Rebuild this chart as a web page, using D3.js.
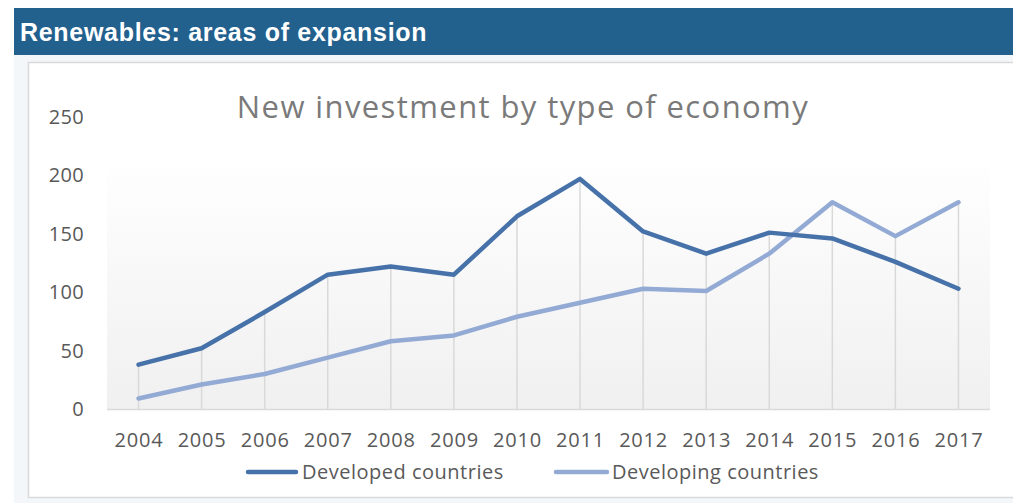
<!DOCTYPE html>
<html>
<head>
<meta charset="utf-8">
<script src="https://cdn.jsdelivr.net/npm/d3@7"></script>
<style>
  html, body { margin: 0; padding: 0; background: #ffffff; }
  svg { display: block; }
</style>
</head>
<body>
<svg id="chart" width="1025" height="503"></svg>
<script>
// New investment in renewables, by type of economy
const years = ["2004","2005","2006","2007","2008","2009","2010","2011","2012","2013","2014","2015","2016","2017"];
const developed  = [38, 52, 83, 115, 122, 115, 165, 197, 152, 133, 151, 146, 126, 103];
const developing = [9, 21, 30, 44, 58, 63, 79, 91, 103, 101, 133, 177, 148, 177];
const yTicks = [0, 50, 100, 150, 200, 250];
const seriesNames = ["Developed countries", "Developing countries"];
const seriesColors = ["#4672a9", "#93abd4"];

const svg = d3.select("#chart");

// page header bar and panel
svg.append("rect").attr("x", 14).attr("y", 55).attr("width", 999).attr("height", 448).attr("fill", "#f3f7fa");
svg.append("rect").attr("x", 14).attr("y", 8).attr("width", 999).attr("height", 47).attr("fill", "#22608e");
svg.append("text").attr("x", 20).attr("y", 41)
  .attr("font-family", "Liberation Sans, Arial, sans-serif").attr("font-weight", "bold")
  .attr("font-size", 25).attr("letter-spacing", 0.7).attr("fill", "#ffffff")
  .text("Renewables: areas of expansion");

// chart frame, cut off at the panel's right edge
svg.append("rect").attr("x", 28.5).attr("y", 62.5).attr("width", 1010).attr("height", 435)
  .attr("fill", "#ffffff").attr("stroke", "#d9d9d9").attr("stroke-width", 1.5);
svg.append("rect").attr("x", 1013).attr("y", 55).attr("width", 12).attr("height", 448).attr("fill", "#ffffff");

const plot = { left: 107, right: 990, top: 155, bottom: 409 };

const x = d3.scalePoint().domain(years).range([plot.left, plot.right]).padding(0.5);
const y = d3.scaleLinear().domain([0, 250]).range([plot.bottom, plot.bottom - 250 * 1.168]);

// plot-area gradient
const defs = svg.append("defs");
const grad = defs.append("linearGradient").attr("id", "plotBg").attr("x1", 0).attr("y1", 0).attr("x2", 0).attr("y2", 1);
grad.append("stop").attr("offset", "0%").attr("stop-color", "#ffffff");
grad.append("stop").attr("offset", "100%").attr("stop-color", "#f0f0f0");
svg.append("rect").attr("x", plot.left).attr("y", plot.top)
  .attr("width", plot.right - plot.left).attr("height", plot.bottom - plot.top)
  .attr("fill", "url(#plotBg)");

// title
svg.append("text").attr("x", 523).attr("y", 118).attr("text-anchor", "middle")
  .attr("font-family", "Open Sans, sans-serif").attr("font-size", 31).attr("letter-spacing", 1.4)
  .attr("fill", "#7a7a7a")
  .text("New investment by type of economy");

// drop lines from the higher series down to the axis
svg.append("g").selectAll("line").data(years).join("line")
  .attr("x1", d => x(d)).attr("x2", d => x(d))
  .attr("y1", y(0))
  .attr("y2", (d, i) => y(Math.max(developed[i], developing[i])))
  .attr("stroke", "#d9d9d9").attr("stroke-width", 1.5);

// x axis line
svg.append("line").attr("x1", plot.left).attr("x2", plot.right)
  .attr("y1", y(0) + 0.5).attr("y2", y(0) + 0.5)
  .attr("stroke", "#d9d9d9").attr("stroke-width", 1.5);

// y axis labels
const yAxis = d3.axisLeft(y).tickValues(yTicks).tickSize(0).tickPadding(0);
const gy = svg.append("g").attr("transform", "translate(84,0)").call(yAxis);
gy.select(".domain").remove();
gy.selectAll("text").attr("font-family", "Open Sans, sans-serif").attr("font-size", 20)
  .attr("letter-spacing", 0.3).attr("fill", "#595959");

// x axis labels
const xAxis = d3.axisBottom(x).tickSize(0).tickPadding(0);
const gx = svg.append("g").attr("transform", "translate(0,433)").call(xAxis);
gx.select(".domain").remove();
gx.selectAll("text").attr("font-family", "Open Sans, sans-serif").attr("font-size", 20)
  .attr("letter-spacing", 0.8).attr("fill", "#595959");

// series lines
const line = d3.line().x((d, i) => x(years[i])).y(d => y(d));
[developing, developed].forEach((vals, k) => {
  const idx = k === 0 ? 1 : 0;
  svg.append("path").datum(vals).attr("d", line)
    .attr("fill", "none").attr("stroke", seriesColors[idx])
    .attr("stroke-width", 4.5).attr("stroke-linejoin", "round").attr("stroke-linecap", "round");
});

// legend
const legendItems = [
  { name: seriesNames[0], color: seriesColors[0], x1: 248, x2: 296, tx: 302 },
  { name: seriesNames[1], color: seriesColors[1], x1: 556, x2: 607, tx: 612 }
];
const lg = svg.append("g");
legendItems.forEach(it => {
  lg.append("line").attr("x1", it.x1).attr("x2", it.x2).attr("y1", 472).attr("y2", 472)
    .attr("stroke", it.color).attr("stroke-width", 4.5).attr("stroke-linecap", "round");
  lg.append("text").attr("x", it.tx).attr("y", 479)
    .attr("font-family", "Open Sans, sans-serif").attr("font-size", 20).attr("letter-spacing", 0.5)
    .attr("fill", "#595959")
    .text(it.name);
});
</script>
</body>
</html>
